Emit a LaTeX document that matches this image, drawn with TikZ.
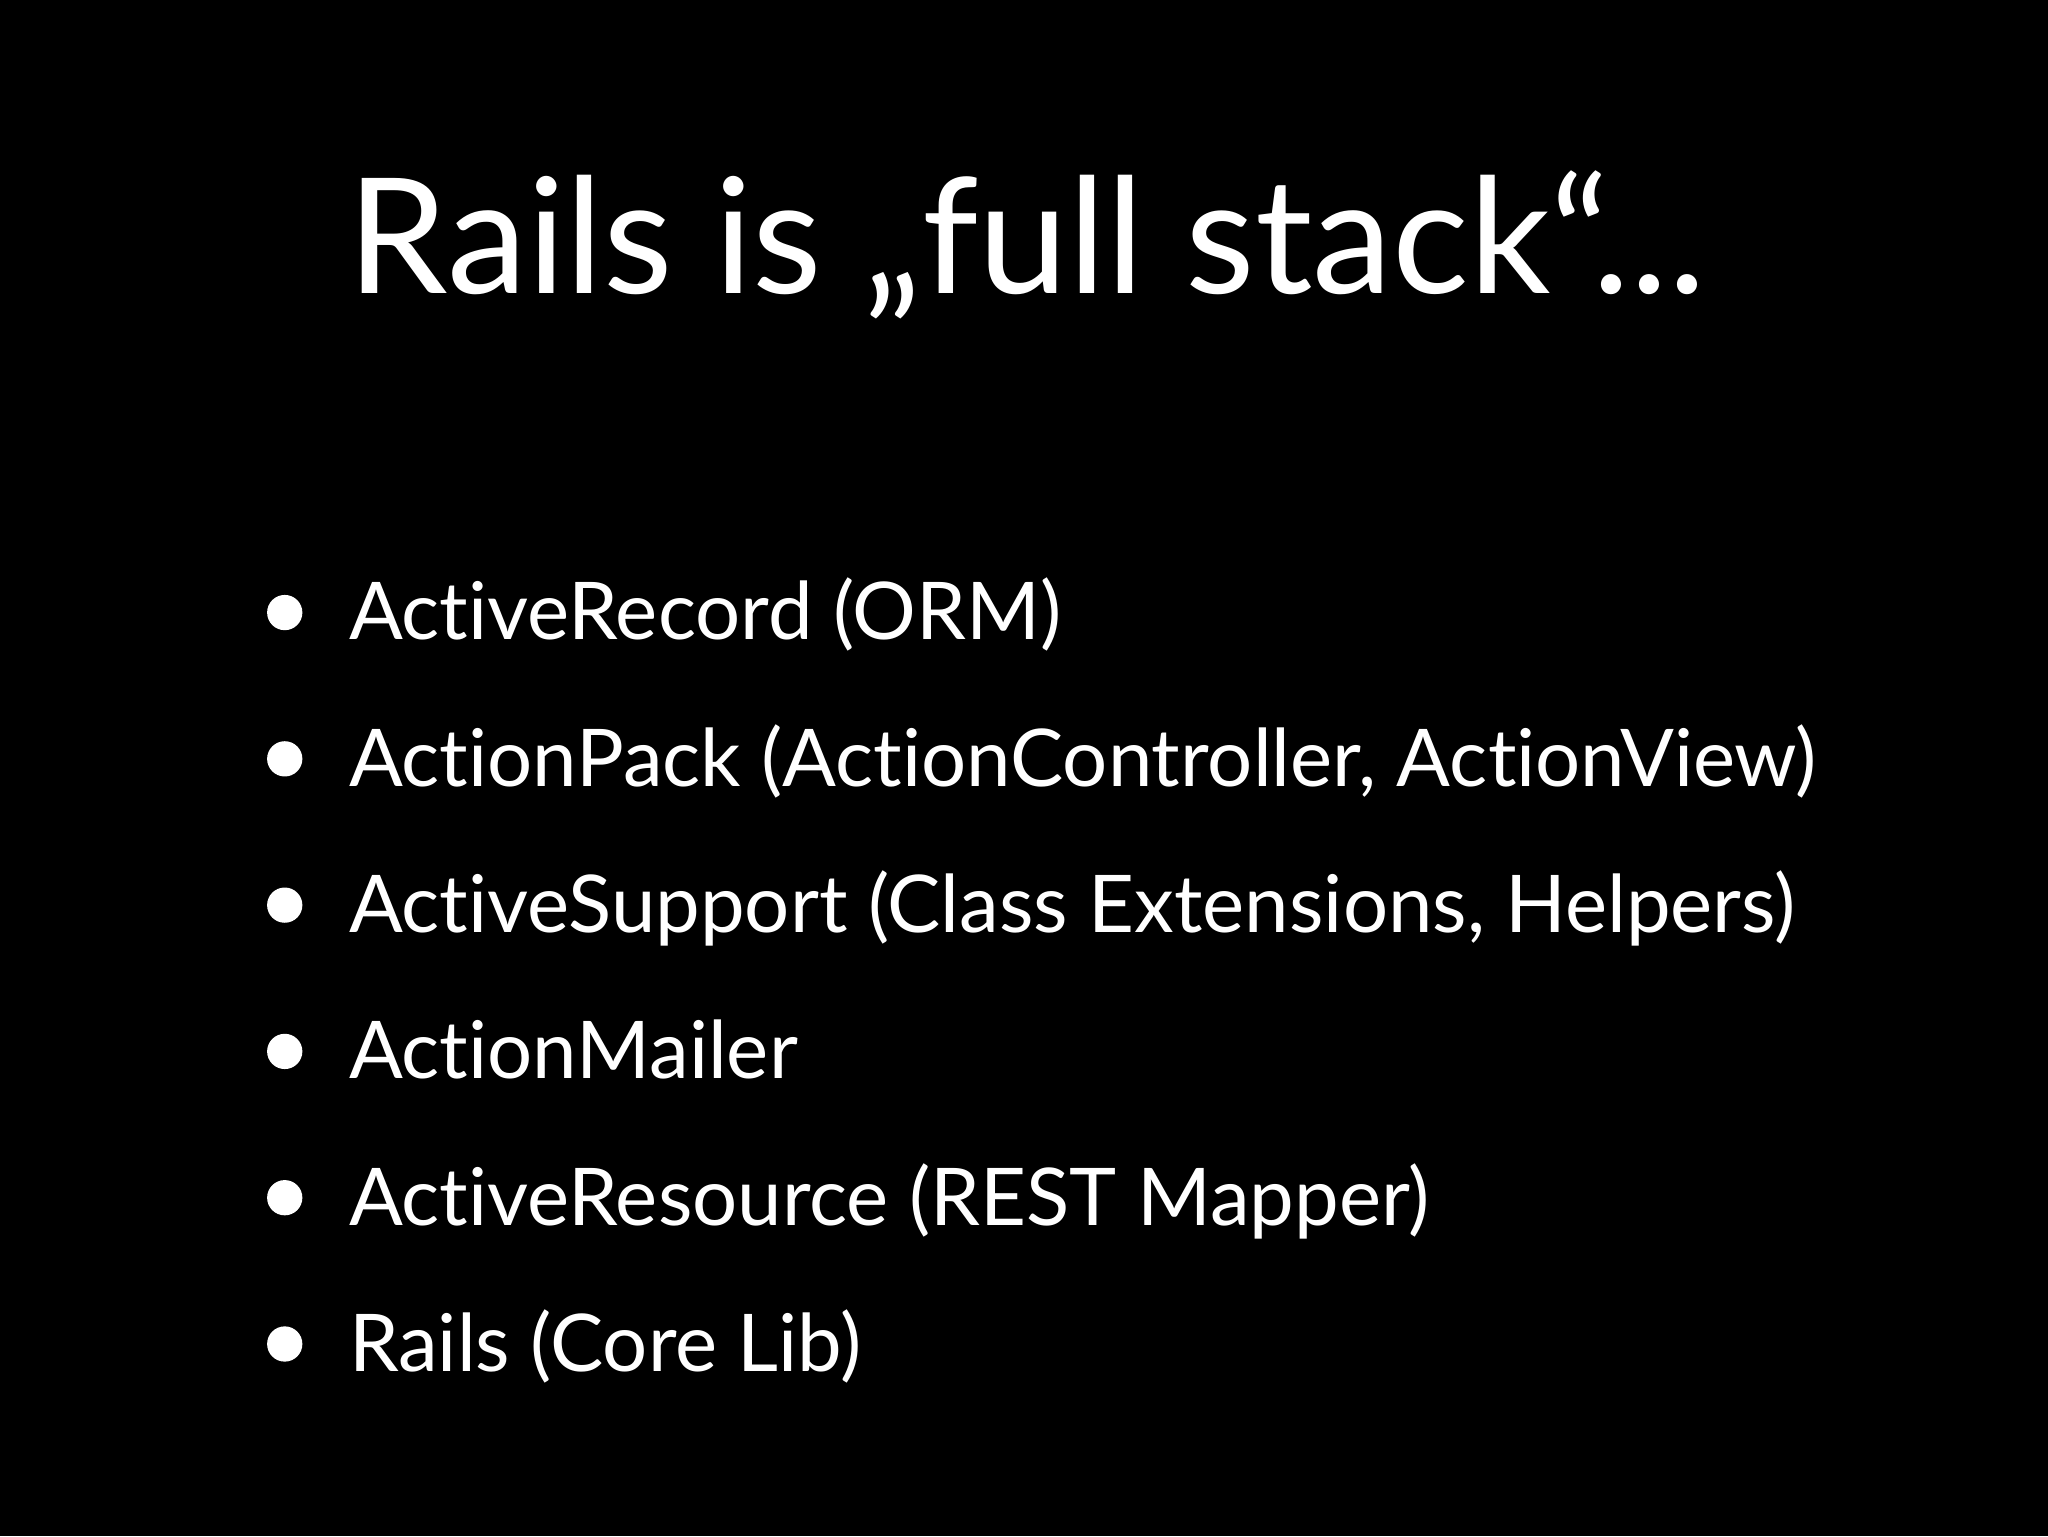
\documentclass[tikz,border=0pt]{standalone}
\usepackage{fontspec}
\setmainfont[Ligatures={NoCommon}]{Lato}
\begin{document}
\begin{tikzpicture}[x=1pt,y=1pt,
  item/.style={anchor=base west,inner sep=0pt,text=white,font=\fontsize{61}{70}\selectfont},
  dot/.style={circle,fill=white,minimum size=27pt,inner sep=0pt}]
\fill[black] (0,0) rectangle (1568,1176);
\useasboundingbox (0,0) rectangle (1568,1176);
\node[anchor=base west,inner sep=0pt,text=white,font=\fontsize{123}{130}\selectfont] (title) at (266,951) {Rails is „full stack“...};
\foreach \t [count=\i] in {ActiveRecord (ORM),ActionPack (ActionController{,} ActionView),ActiveSupport (Class Extensions{,} Helpers),ActionMailer,ActiveResource (REST Mapper),Rails (Core Lib)}{
  \node[item] (it\i) at (267,{1176-490-112*(\i-1)}) {\t};
  \node[dot] (d\i) at (218,{1176-469-112*(\i-1)}) {};
}
\end{tikzpicture}
\end{document}
